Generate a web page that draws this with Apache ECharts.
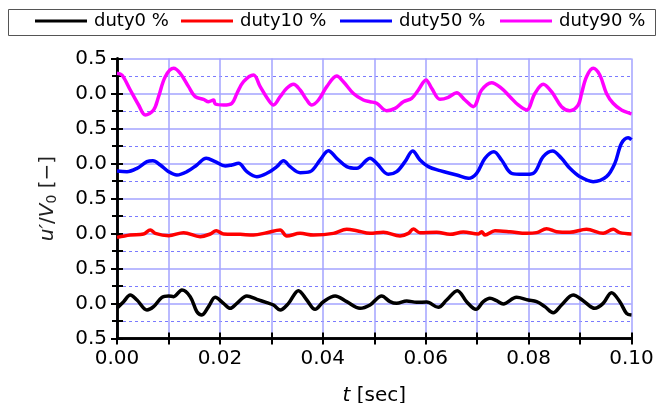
<!DOCTYPE html>
<html><head><meta charset="utf-8">
<script src="https://cdn.jsdelivr.net/npm/echarts@6/dist/echarts.min.js"></script>
<style>html,body{margin:0;padding:0;background:#fff}#c{width:662px;height:403px}</style>
</head><body><div id="c"></div>
<script>
const seriesNames = ['duty0 %', 'duty10 %', 'duty50 %', 'duty90 %'];
const seriesColors = ['#000000', '#ff0000', '#0000ff', '#ff00ff'];
const panelCenters = [0.5, 1.5, 2.5, 3.5];
const xTickLabels = ['0.00', '0.02', '0.04', '0.06', '0.08', '0.10'];
const yTickLabels = ['0.5', '0.0', '0.5', '0.0', '0.5', '0.0', '0.5', '0.0', '0.5'];

const tBlack = [0, 0.00129, 0.00258, 0.00388, 0.00582, 0.00711, 0.00873, 0.01003, 0.01100, 0.01262, 0.01423, 0.01553, 0.01650, 0.01779, 0.01909, 0.02070, 0.02200, 0.02330, 0.02524, 0.02718, 0.02912, 0.03041, 0.03171, 0.03333, 0.03527, 0.03689, 0.03850, 0.04012, 0.04239, 0.04465, 0.04724, 0.04918, 0.05145, 0.05307, 0.05436, 0.05630, 0.05825, 0.06019, 0.06245, 0.06407, 0.06614, 0.06795, 0.06977, 0.07119, 0.07249, 0.07378, 0.07507, 0.07766, 0.07993, 0.08155, 0.08317, 0.08478, 0.08640, 0.08867, 0.09061, 0.09287, 0.09449, 0.09611, 0.09773, 0.09903, 0.1];
const vBlack = [-0.069, 0.026, 0.121, 0.05, -0.093, -0.045, 0.088, 0.107, 0.098, 0.193, 0.098, -0.117, -0.164, -0.045, 0.088, 0.002, -0.069, 0.002, 0.107, 0.06, 0.012, -0.021, -0.093, 0.002, 0.183, 0.05, -0.083, 0.026, 0.107, 0.026, -0.069, -0.021, 0.107, 0.026, 0.002, 0.036, 0.017, 0.021, -0.055, 0.05, 0.183, 0.026, -0.083, 0.026, 0.074, 0.04, -0.007, 0.088, 0.05, 0.026, -0.045, -0.131, -0.021, 0.121, 0.04, -0.069, 0.002, 0.155, 0.026, -0.14, -0.164];

const tRed = [0, 0.00258, 0.00517, 0.00647, 0.00744, 0.01003, 0.01294, 0.01617, 0.01812, 0.01928, 0.02070, 0.02394, 0.02653, 0.02912, 0.03171, 0.03300, 0.03559, 0.03818, 0.04206, 0.04465, 0.04660, 0.04918, 0.05177, 0.05501, 0.05663, 0.05760, 0.05889, 0.06213, 0.06472, 0.06731, 0.07022, 0.07087, 0.07151, 0.07346, 0.07637, 0.07961, 0.08155, 0.08349, 0.08543, 0.08802, 0.09126, 0.09449, 0.09643, 0.09773, 0.1];
const vRed = [-0.055, -0.021, -0.007, 0.05, 0.002, -0.031, 0.012, -0.045, -0.007, 0.04, -0.007, -0.012, -0.021, 0.012, 0.05, -0.036, 0.002, -0.021, 0.002, 0.06, 0.04, 0.002, 0.017, -0.036, 0.002, 0.064, 0.012, 0.017, -0.012, 0.021, -0.007, 0.026, -0.021, 0.04, 0.026, 0.002, 0.012, 0.069, 0.026, 0.017, 0.06, 0.002, 0.06, 0.012, -0.007];

const tBlue = [0, 0.00194, 0.00388, 0.00582, 0.00698, 0.00841, 0.01003, 0.01164, 0.01359, 0.01553, 0.01734, 0.01909, 0.02103, 0.02232, 0.02362, 0.02524, 0.02718, 0.02912, 0.03106, 0.03236, 0.03365, 0.03559, 0.03753, 0.03948, 0.04109, 0.04271, 0.04465, 0.04660, 0.04854, 0.04918, 0.05048, 0.05274, 0.05436, 0.05598, 0.05747, 0.05889, 0.06051, 0.06278, 0.06601, 0.06828, 0.06990, 0.07151, 0.07326, 0.07475, 0.07669, 0.07896, 0.08090, 0.08284, 0.08465, 0.08640, 0.08802, 0.08996, 0.09255, 0.09514, 0.09676, 0.09805, 0.09935, 0.1];
const vBlue = [-0.107, -0.117, -0.069, 0.026, 0.04, -0.021, -0.117, -0.164, -0.117, -0.021, 0.074, 0.026, -0.036, -0.021, 0.002, -0.117, -0.188, -0.14, -0.045, 0.04, -0.045, -0.131, -0.117, 0.05, 0.183, 0.074, -0.045, -0.069, 0.05, 0.074, 0.002, -0.155, -0.117, 0.026, 0.179, 0.05, -0.045, -0.102, -0.164, -0.212, -0.14, 0.074, 0.169, 0.05, -0.14, -0.155, -0.14, 0.098, 0.179, 0.074, -0.069, -0.188, -0.26, -0.188, 0.002, 0.288, 0.369, 0.34];

const tMagenta = [0, 0.00096, 0.00258, 0.00420, 0.00550, 0.00711, 0.00808, 0.00938, 0.01100, 0.01229, 0.01391, 0.01520, 0.01682, 0.01779, 0.01876, 0.01909, 0.02070, 0.02232, 0.02330, 0.02459, 0.02653, 0.02783, 0.02944, 0.03041, 0.03171, 0.03300, 0.03430, 0.03559, 0.03689, 0.03786, 0.03915, 0.04077, 0.04271, 0.04400, 0.04595, 0.04789, 0.04918, 0.05048, 0.05242, 0.05404, 0.05566, 0.05728, 0.05857, 0.06006, 0.06116, 0.06278, 0.06439, 0.06601, 0.06763, 0.06925, 0.07087, 0.07281, 0.07475, 0.07637, 0.07799, 0.07961, 0.08122, 0.08284, 0.08446, 0.08640, 0.08802, 0.08964, 0.09029, 0.09126, 0.09255, 0.09384, 0.09514, 0.09643, 0.09805, 0.09967, 0.1];
const vMagenta = [0.29, 0.264, 0.05, -0.164, -0.307, -0.236, -0.045, 0.24, 0.36, 0.289, 0.098, -0.045, -0.083, -0.117, -0.093, -0.15, -0.164, -0.14, 0.0, 0.169, 0.264, 0.098, -0.093, -0.164, -0.045, 0.074, 0.131, 0.05, -0.093, -0.164, -0.093, 0.098, 0.25, 0.169, 0.0, -0.093, -0.117, -0.14, -0.245, -0.212, -0.117, -0.069, 0.05, 0.193, 0.074, -0.083, -0.055, 0.012, -0.093, -0.188, 0.05, 0.155, 0.074, -0.045, -0.164, -0.236, 0.0, 0.131, 0.026, -0.188, -0.245, -0.164, 0.0, 0.24, 0.36, 0.264, 0.0, -0.14, -0.236, -0.283, -0.29];

const allT = [tBlack, tRed, tBlue, tMagenta];
const allV = [vBlack, vRed, vBlue, vMagenta];

const FONT = 'DejaVu Sans';
const gridColor = '#a3a3ff';

const chart = echarts.init(document.getElementById('c'), null, {renderer: 'canvas'});

const series = seriesNames.map((name, i) => ({
  name: name,
  type: 'line',
  xAxisIndex: 0,
  yAxisIndex: 0,
  data: allT[i].map((t, k) => [t, allV[i][k] + panelCenters[i]]),
  showSymbol: false,
  symbol: 'none',
  smooth: 0.35,
  lineStyle: {color: seriesColors[i], width: 3.5},
  itemStyle: {color: seriesColors[i]},
  animation: false,
  z: 3
}));

const legendLeft = [35, 181, 340, 500];
const legends = seriesNames.map((name, i) => ({
  data: [{name: name, icon: 'rect', itemStyle: {color: seriesColors[i]}}],
  left: legendLeft[i],
  top: 12,
  itemWidth: 52,
  itemHeight: 3,
  itemGap: 0,
  padding: 0,
  textStyle: {fontFamily: FONT, fontSize: 18, color: '#000', padding: [0, 0, 0, 2]},
  selectedMode: false
}));

const axisLineStyle = {show: true, lineStyle: {color: '#000', width: 2.5}};
const tickStyle = {show: true, inside: false, length: 6, lineStyle: {color: '#000', width: 2}};

chart.setOption({
  backgroundColor: '#fff',
  animation: false,
  legend: legends,
  graphic: [{
    type: 'rect',
    shape: {x: 8.5, y: 9.5, width: 647, height: 26},
    style: {fill: 'none', stroke: '#555', lineWidth: 1},
    z: -1
  }],
  grid: {left: 117, right: 30.5, top: 58.5, bottom: 64.5, containLabel: false, outerBoundsMode: 'none'},
  xAxis: [{
    type: 'value',
    position: 'bottom',
    min: 0, max: 0.1, interval: 0.01,
    axisLine: axisLineStyle,
    axisTick: tickStyle,
    axisLabel: {
      fontFamily: FONT, fontSize: 20, color: '#000', margin: 10,
      formatter: function (v) {
        const k = Math.round(v * 100);
        return k % 2 === 0 ? xTickLabels[k / 2] : '';
      }
    },
    splitLine: {show: true, lineStyle: {color: gridColor, width: 1.5}},
    name: '{i|t} [sec]',
    nameLocation: 'middle',
    nameGap: 47,
    nameTextStyle: {
      fontFamily: FONT, fontSize: 20, color: '#000',
      rich: {i: {fontFamily: FONT, fontSize: 20, fontStyle: 'italic', color: '#000'}}
    }
  }, {
    type: 'value',
    position: 'top',
    min: 0, max: 0.1, interval: 0.01,
    axisLine: axisLineStyle,
    axisTick: tickStyle,
    axisLabel: {show: false},
    splitLine: {show: false}
  }],
  yAxis: [{
    type: 'value',
    position: 'left',
    min: 0, max: 4, interval: 0.5,
    axisLine: axisLineStyle,
    axisTick: tickStyle,
    minorTick: {show: true, splitNumber: 2, length: 5, lineStyle: {color: '#000', width: 2}},
    axisLabel: {
      fontFamily: FONT, fontSize: 20, color: '#000', margin: 10,
      formatter: function (v) { return yTickLabels[Math.round(v / 0.5)]; }
    },
    splitLine: {show: true, lineStyle: {color: gridColor, width: 1.5}},
    minorSplitLine: {show: true, lineStyle: {color: '#7a7aff', width: 1, type: [3, 3]}},
    name: '{i|u′}/{i|V}{s|0} [−]',
    nameLocation: 'middle',
    nameRotate: 90,
    nameGap: 58,
    nameTextStyle: {
      fontFamily: FONT, fontSize: 20, color: '#222',
      rich: {
        i: {fontFamily: FONT, fontSize: 20, fontStyle: 'italic', color: '#222'},
        s: {fontFamily: FONT, fontSize: 14, color: '#222', verticalAlign: 'bottom', padding: [8, 0, 0, 0]}
      }
    }
  }, {
    type: 'value',
    position: 'right',
    min: 0, max: 4, interval: 0.5,
    axisLine: axisLineStyle,
    axisTick: tickStyle,
    minorTick: {show: true, splitNumber: 2, length: 6, lineStyle: {color: '#000', width: 2}},
    axisLabel: {show: false},
    splitLine: {show: false}
  }],
  series: series
});
</script></body></html>
